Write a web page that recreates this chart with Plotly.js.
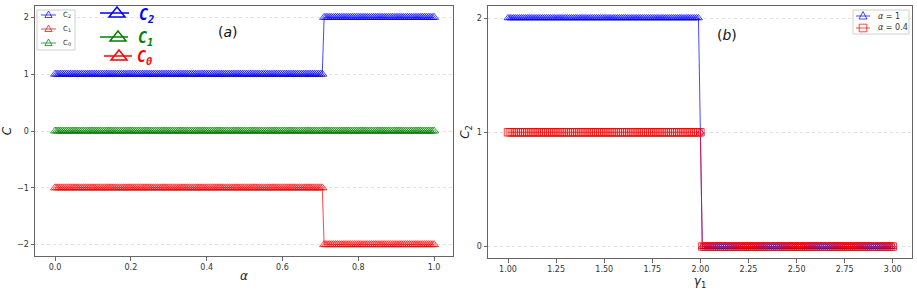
<!DOCTYPE html>
<html>
<head>
<meta charset="utf-8">
<script src="https://cdn.plot.ly/plotly-3.0.1.min.js"></script>
<style>html,body{margin:0;padding:0;background:#fff;}#chart{width:917px;height:291px;}</style>
</head>
<body>
<div id="chart"></div>
<script>
// ---------- Panel (a) data ----------
const alpha = [
0,0.005,0.01,0.015,0.02,0.025,0.03,0.035,0.04,0.045,0.05,0.055,0.06,0.065,0.07,0.075,0.08,0.085,0.09,0.095,
0.1,0.105,0.11,0.115,0.12,0.125,0.13,0.135,0.14,0.145,0.15,0.155,0.16,0.165,0.17,0.175,0.18,0.185,0.19,0.195,
0.2,0.205,0.21,0.215,0.22,0.225,0.23,0.235,0.24,0.245,0.25,0.255,0.26,0.265,0.27,0.275,0.28,0.285,0.29,0.295,
0.3,0.305,0.31,0.315,0.32,0.325,0.33,0.335,0.34,0.345,0.35,0.355,0.36,0.365,0.37,0.375,0.38,0.385,0.39,0.395,
0.4,0.405,0.41,0.415,0.42,0.425,0.43,0.435,0.44,0.445,0.45,0.455,0.46,0.465,0.47,0.475,0.48,0.485,0.49,0.495,
0.5,0.505,0.51,0.515,0.52,0.525,0.53,0.535,0.54,0.545,0.55,0.555,0.56,0.565,0.57,0.575,0.58,0.585,0.59,0.595,
0.6,0.605,0.61,0.615,0.62,0.625,0.63,0.635,0.64,0.645,0.65,0.655,0.66,0.665,0.67,0.675,0.68,0.685,0.69,0.695,
0.7,0.705,0.71,0.715,0.72,0.725,0.73,0.735,0.74,0.745,0.75,0.755,0.76,0.765,0.77,0.775,0.78,0.785,0.79,0.795,
0.8,0.805,0.81,0.815,0.82,0.825,0.83,0.835,0.84,0.845,0.85,0.855,0.86,0.865,0.87,0.875,0.88,0.885,0.89,0.895,
0.9,0.905,0.91,0.915,0.92,0.925,0.93,0.935,0.94,0.945,0.95,0.955,0.96,0.965,0.97,0.975,0.98,0.985,0.99,0.995,
1];
const C2_a = [
1,1,1,1,1,1,1,1,1,1,1,1,1,1,1,1,1,1,1,1,
1,1,1,1,1,1,1,1,1,1,1,1,1,1,1,1,1,1,1,1,
1,1,1,1,1,1,1,1,1,1,1,1,1,1,1,1,1,1,1,1,
1,1,1,1,1,1,1,1,1,1,1,1,1,1,1,1,1,1,1,1,
1,1,1,1,1,1,1,1,1,1,1,1,1,1,1,1,1,1,1,1,
1,1,1,1,1,1,1,1,1,1,1,1,1,1,1,1,1,1,1,1,
1,1,1,1,1,1,1,1,1,1,1,1,1,1,1,1,1,1,1,1,
1,1,2,2,2,2,2,2,2,2,2,2,2,2,2,2,2,2,2,2,
2,2,2,2,2,2,2,2,2,2,2,2,2,2,2,2,2,2,2,2,
2,2,2,2,2,2,2,2,2,2,2,2,2,2,2,2,2,2,2,2,
2];
const C1_a = [
-1,-1,-1,-1,-1,-1,-1,-1,-1,-1,-1,-1,-1,-1,-1,-1,-1,-1,-1,-1,
-1,-1,-1,-1,-1,-1,-1,-1,-1,-1,-1,-1,-1,-1,-1,-1,-1,-1,-1,-1,
-1,-1,-1,-1,-1,-1,-1,-1,-1,-1,-1,-1,-1,-1,-1,-1,-1,-1,-1,-1,
-1,-1,-1,-1,-1,-1,-1,-1,-1,-1,-1,-1,-1,-1,-1,-1,-1,-1,-1,-1,
-1,-1,-1,-1,-1,-1,-1,-1,-1,-1,-1,-1,-1,-1,-1,-1,-1,-1,-1,-1,
-1,-1,-1,-1,-1,-1,-1,-1,-1,-1,-1,-1,-1,-1,-1,-1,-1,-1,-1,-1,
-1,-1,-1,-1,-1,-1,-1,-1,-1,-1,-1,-1,-1,-1,-1,-1,-1,-1,-1,-1,
-1,-1,-2,-2,-2,-2,-2,-2,-2,-2,-2,-2,-2,-2,-2,-2,-2,-2,-2,-2,
-2,-2,-2,-2,-2,-2,-2,-2,-2,-2,-2,-2,-2,-2,-2,-2,-2,-2,-2,-2,
-2,-2,-2,-2,-2,-2,-2,-2,-2,-2,-2,-2,-2,-2,-2,-2,-2,-2,-2,-2,
-2];
const C0_a = [
0,0,0,0,0,0,0,0,0,0,0,0,0,0,0,0,0,0,0,0,
0,0,0,0,0,0,0,0,0,0,0,0,0,0,0,0,0,0,0,0,
0,0,0,0,0,0,0,0,0,0,0,0,0,0,0,0,0,0,0,0,
0,0,0,0,0,0,0,0,0,0,0,0,0,0,0,0,0,0,0,0,
0,0,0,0,0,0,0,0,0,0,0,0,0,0,0,0,0,0,0,0,
0,0,0,0,0,0,0,0,0,0,0,0,0,0,0,0,0,0,0,0,
0,0,0,0,0,0,0,0,0,0,0,0,0,0,0,0,0,0,0,0,
0,0,0,0,0,0,0,0,0,0,0,0,0,0,0,0,0,0,0,0,
0,0,0,0,0,0,0,0,0,0,0,0,0,0,0,0,0,0,0,0,
0,0,0,0,0,0,0,0,0,0,0,0,0,0,0,0,0,0,0,0,
0];
const seriesNamesA = ['C<sub>2</sub>', 'C<sub>1</sub>', 'C<sub>0</sub>'];
const bigLabelsA = ['C<sub>2</sub>', 'C<sub>1</sub>', 'C<sub>0</sub>'];
const xTicksA = [0, 0.2, 0.4, 0.6, 0.8, 1.0];
const xTickTextA = ["0.0","0.2","0.4","0.6","0.8","1.0"];
const yTicksA = [-2, -1, 0, 1, 2];

// ---------- Panel (b) data ----------
const gamma1 = [
1,1.01,1.02,1.03,1.04,1.05,1.06,1.07,1.08,1.09,
1.1,1.11,1.12,1.13,1.14,1.15,1.16,1.17,1.18,1.19,
1.2,1.21,1.22,1.23,1.24,1.25,1.26,1.27,1.28,1.29,
1.3,1.31,1.32,1.33,1.34,1.35,1.36,1.37,1.38,1.39,
1.4,1.41,1.42,1.43,1.44,1.45,1.46,1.47,1.48,1.49,
1.5,1.51,1.52,1.53,1.54,1.55,1.56,1.57,1.58,1.59,
1.6,1.61,1.62,1.63,1.64,1.65,1.66,1.67,1.68,1.69,
1.7,1.71,1.72,1.73,1.74,1.75,1.76,1.77,1.78,1.79,
1.8,1.81,1.82,1.83,1.84,1.85,1.86,1.87,1.88,1.89,
1.9,1.91,1.92,1.93,1.94,1.95,1.96,1.97,1.98,1.99,
2,2.01,2.02,2.03,2.04,2.05,2.06,2.07,2.08,2.09,
2.1,2.11,2.12,2.13,2.14,2.15,2.16,2.17,2.18,2.19,
2.2,2.21,2.22,2.23,2.24,2.25,2.26,2.27,2.28,2.29,
2.3,2.31,2.32,2.33,2.34,2.35,2.36,2.37,2.38,2.39,
2.4,2.41,2.42,2.43,2.44,2.45,2.46,2.47,2.48,2.49,
2.5,2.51,2.52,2.53,2.54,2.55,2.56,2.57,2.58,2.59,
2.6,2.61,2.62,2.63,2.64,2.65,2.66,2.67,2.68,2.69,
2.7,2.71,2.72,2.73,2.74,2.75,2.76,2.77,2.78,2.79,
2.8,2.81,2.82,2.83,2.84,2.85,2.86,2.87,2.88,2.89,
2.9,2.91,2.92,2.93,2.94,2.95,2.96,2.97,2.98,2.99,
3];
const C2_alpha1 = [
2,2,2,2,2,2,2,2,2,2,
2,2,2,2,2,2,2,2,2,2,
2,2,2,2,2,2,2,2,2,2,
2,2,2,2,2,2,2,2,2,2,
2,2,2,2,2,2,2,2,2,2,
2,2,2,2,2,2,2,2,2,2,
2,2,2,2,2,2,2,2,2,2,
2,2,2,2,2,2,2,2,2,2,
2,2,2,2,2,2,2,2,2,2,
2,2,2,2,2,2,2,2,2,2,
1,0,0,0,0,0,0,0,0,0,
0,0,0,0,0,0,0,0,0,0,
0,0,0,0,0,0,0,0,0,0,
0,0,0,0,0,0,0,0,0,0,
0,0,0,0,0,0,0,0,0,0,
0,0,0,0,0,0,0,0,0,0,
0,0,0,0,0,0,0,0,0,0,
0,0,0,0,0,0,0,0,0,0,
0,0,0,0,0,0,0,0,0,0,
0,0,0,0,0,0,0,0,0,0,
0];
const C2_alpha04 = [
1,1,1,1,1,1,1,1,1,1,
1,1,1,1,1,1,1,1,1,1,
1,1,1,1,1,1,1,1,1,1,
1,1,1,1,1,1,1,1,1,1,
1,1,1,1,1,1,1,1,1,1,
1,1,1,1,1,1,1,1,1,1,
1,1,1,1,1,1,1,1,1,1,
1,1,1,1,1,1,1,1,1,1,
1,1,1,1,1,1,1,1,1,1,
1,1,1,1,1,1,1,1,1,1,
1,0,0,0,0,0,0,0,0,0,
0,0,0,0,0,0,0,0,0,0,
0,0,0,0,0,0,0,0,0,0,
0,0,0,0,0,0,0,0,0,0,
0,0,0,0,0,0,0,0,0,0,
0,0,0,0,0,0,0,0,0,0,
0,0,0,0,0,0,0,0,0,0,
0,0,0,0,0,0,0,0,0,0,
0,0,0,0,0,0,0,0,0,0,
0,0,0,0,0,0,0,0,0,0,
0];
const seriesNamesB = ['<i>α</i> = 1', '<i>α</i> = 0.4'];
const xTicksB = [1.0, 1.25, 1.5, 1.75, 2.0, 2.25, 2.5, 2.75, 3.0];
const xTickTextB = ["1.00","1.25","1.50","1.75","2.00","2.25","2.50","2.75","3.00"];
const yTicksB = [0, 1, 2];

// ---------- styling ----------
const W = 917, H = 291;
const px = v => v / W;
const py = v => 1 - v / H;
const BLUE = 'rgba(0,0,255,0.72)';
const RED = 'rgba(255,0,0,0.72)';
const GREEN = 'rgba(0,128,0,0.72)';
const tickFont = {family: 'DejaVu Sans', size: 8, color: '#333'};
const titleFont = {family: 'DejaVu Sans', size: 12, color: '#222'};

function tr(x, y, name, color, symbol, size, xa, ya) {
  return {
    x: x, y: y, name: name, type: 'scatter', mode: 'lines+markers',
    xaxis: xa, yaxis: ya, showlegend: false,
    line: {color: color, width: 1},
    marker: {symbol: symbol, size: size, color: color, line: {color: color, width: 1}}
  };
}

const data = [
  tr(alpha, C2_a, seriesNamesA[0], BLUE, 'triangle-up-open', 8, 'x', 'y'),
  tr(alpha, C1_a, seriesNamesA[1], RED, 'triangle-up-open', 8, 'x', 'y'),
  tr(alpha, C0_a, seriesNamesA[2], GREEN, 'triangle-up-open', 8, 'x', 'y'),
  tr(gamma1, C2_alpha1, seriesNamesB[0], BLUE, 'triangle-up-open', 7, 'x2', 'y2'),
  tr(gamma1, C2_alpha04, seriesNamesB[1], RED, 'square-open', 7.5, 'x2', 'y2')
];

const axisCommon = {
  showline: true, mirror: true, linecolor: '#666', linewidth: 1,
  ticks: 'outside', ticklen: 3.5, tickwidth: 1, tickcolor: '#666',
  tickfont: tickFont, zeroline: false, showgrid: false
};
const yCommon = Object.assign({}, axisCommon, {
  showgrid: true, gridcolor: '#e2e2e2', griddash: 'dot', gridwidth: 1
});

const shapes = [];
const annotations = [];

function tri(cx, cy, hw, up, down, color, width) {
  return {type: 'path', xref: 'paper', yref: 'paper',
    path: `M ${px(cx - hw)} ${py(cy + down)} L ${px(cx + hw)} ${py(cy + down)} L ${px(cx)} ${py(cy - up)} Z`,
    line: {color: color, width: width}, fillcolor: 'rgba(0,0,0,0)'};
}
function sq(cx, cy, h, color, width) {
  return {type: 'rect', xref: 'paper', yref: 'paper',
    x0: px(cx - h), x1: px(cx + h), y0: py(cy + h), y1: py(cy - h),
    line: {color: color, width: width}, fillcolor: 'rgba(0,0,0,0)'};
}
function legendBox(x0, x1, y0, y1) {
  shapes.push({type: 'rect', xref: 'paper', yref: 'paper',
    x0: px(x0), x1: px(x1), y0: py(y1), y1: py(y0),
    line: {color: '#d0d0d0', width: 1}, fillcolor: 'rgba(255,255,255,0.85)'});
}
function legendLine(x0, x1, y, color) {
  shapes.push({type: 'line', xref: 'paper', yref: 'paper',
    x0: px(x0), x1: px(x1), y0: py(y), y1: py(y), line: {color: color, width: 1}});
}
function legendText(x, y, text, size) {
  annotations.push({xref: 'paper', yref: 'paper', x: px(x), y: py(y), xanchor: 'left', yanchor: 'middle',
    showarrow: false, text: text, font: {family: 'DejaVu Sans', size: size, color: '#333'}});
}

// small legend of panel (a)
const smallColors = [BLUE, RED, GREEN];
const smallRows = [15, 29, 43];
legendBox(37, 75, 10, 50);
smallRows.forEach((ry, i) => {
  legendLine(41, 56, ry, smallColors[i]);
  shapes.push(tri(48.5, ry, 3.6, 4, 2.5, smallColors[i], 1));
  legendText(61, ry, seriesNamesA[i], 7);
});

// legend of panel (b)
legendBox(853, 909, 10, 34);
legendLine(856, 870, 16, BLUE);
shapes.push(tri(863, 16, 4, 4.5, 3, BLUE, 1));
legendText(876, 16, seriesNamesB[0], 8);
legendLine(856, 870, 28, RED);
shapes.push(sq(863, 28, 3.8, RED, 1));
legendText(876, 28, seriesNamesB[1], 8);

// big decorative labels (top of panel a)
const big = [
  {c: 'rgb(0,0,255)', ly: 13, x0: 100, x1: 129, tx: 117, lx: 146},
  {c: 'rgb(0,128,0)', ly: 37, x0: 100, x1: 128, tx: 118, lx: 145},
  {c: 'rgb(255,0,0)', ly: 56, x0: 104, x1: 132, tx: 119, lx: 144}
];
big.forEach((b, i) => {
  shapes.push({type: 'line', xref: 'paper', yref: 'paper',
    x0: px(b.x0), x1: px(b.x1), y0: py(b.ly), y1: py(b.ly),
    line: {color: b.c, width: 1.5}});
  shapes.push(tri(b.tx, b.ly, 8, 6, 4, b.c, 1.5));
  annotations.push({xref: 'paper', yref: 'paper', x: px(b.lx), y: py(b.ly + 2),
    xanchor: 'center', yanchor: 'middle', showarrow: false,
    text: '<b><i>' + bigLabelsA[i] + '</i></b>',
    font: {family: 'DejaVu Sans Mono', size: 15, color: b.c}});
});
annotations.push({xref: 'paper', yref: 'paper', x: px(228), y: py(32), xanchor: 'center', yanchor: 'middle',
  showarrow: false, text: '(<i>a</i>)', font: {family: 'DejaVu Sans', size: 14, color: '#111'}});
annotations.push({xref: 'paper', yref: 'paper', x: px(727), y: py(35), xanchor: 'center', yanchor: 'middle',
  showarrow: false, text: '(<i>b</i>)', font: {family: 'DejaVu Sans', size: 14, color: '#111'}});

const layout = {
  width: W, height: H,
  margin: {l: 0, r: 0, t: 0, b: 0},
  paper_bgcolor: '#fff', plot_bgcolor: '#fff',
  showlegend: false,
  xaxis: Object.assign({}, axisCommon, {
    domain: [px(35), px(453)], range: [-0.053, 1.05], anchor: 'y',
    tickvals: xTicksA, ticktext: xTickTextA,
    title: {text: '<i>α</i>', font: titleFont, standoff: 0}
  }),
  yaxis: Object.assign({}, yCommon, {
    domain: [py(256), py(6)], range: [-2.2, 2.2], anchor: 'x',
    tickvals: yTicksA,
    title: {text: '<i>C</i>', font: titleFont, standoff: 7}
  }),
  xaxis2: Object.assign({}, axisCommon, {
    domain: [px(488), px(912)], range: [0.896, 3.1], anchor: 'y2',
    tickvals: xTicksB, ticktext: xTickTextB,
    title: {text: '<i>γ</i><sub>1</sub>', font: titleFont, standoff: 0}
  }),
  yaxis2: Object.assign({}, yCommon, {
    domain: [py(258), py(6)], range: [-0.1, 2.105], anchor: 'x2',
    tickvals: yTicksB,
    title: {text: '<i>C</i><sub>2</sub>', font: titleFont, standoff: 4}
  }),
  shapes: shapes,
  annotations: annotations
};

Plotly.newPlot('chart', data, layout, {displayModeBar: false, staticPlot: true});
</script>
</body>
</html>
